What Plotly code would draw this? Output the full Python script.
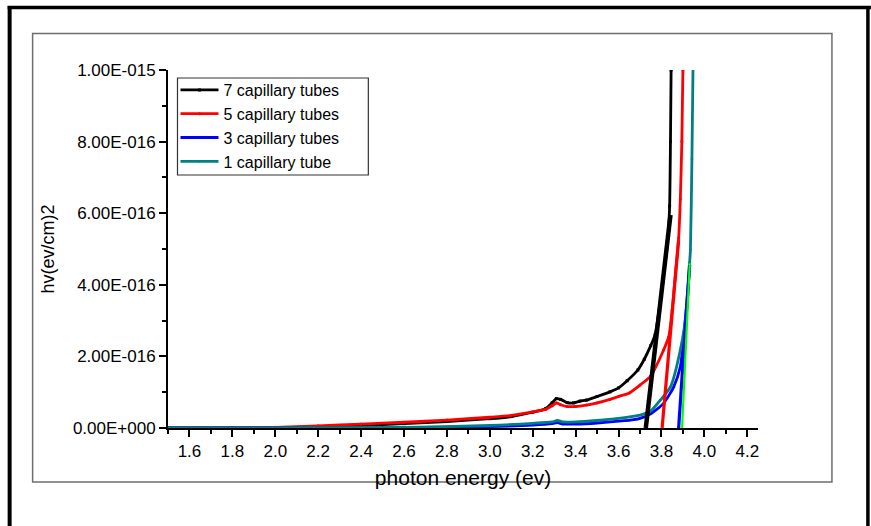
import plotly.graph_objects as go

# ---------------- data ----------------
series_names = ["7 capillary tubes", "5 capillary tubes", "3 capillary tubes", "1 capillary tube"]

x_7 = [1.50, 1.80, 2.00, 2.20, 2.40, 2.60, 2.80, 3.00, 3.10, 3.20, 3.26, 3.29, 3.31, 3.33, 3.36,
       3.39, 3.42, 3.45, 3.50, 3.56, 3.60, 3.64, 3.69, 3.72, 3.75, 3.77, 3.80, 3.83, 3.838, 3.842, 3.845]
y_7 = [0.0, 0.0, 0.01e-16, 0.03e-16, 0.07e-16, 0.12e-16, 0.18e-16, 0.26e-16, 0.32e-16, 0.44e-16,
       0.54e-16, 0.70e-16, 0.82e-16, 0.80e-16, 0.71e-16, 0.70e-16, 0.75e-16, 0.78e-16, 0.88e-16,
       1.01e-16, 1.12e-16, 1.32e-16, 1.62e-16, 1.92e-16, 2.30e-16, 2.60e-16, 3.80e-16, 5.30e-16,
       6.20e-16, 8.00e-16, 10.0e-16]

x_5 = [1.50, 1.80, 2.00, 2.20, 2.40, 2.60, 2.80, 3.00, 3.10, 3.20, 3.26, 3.29, 3.31, 3.33, 3.36,
       3.40, 3.45, 3.50, 3.56, 3.60, 3.65, 3.70, 3.75, 3.81, 3.834, 3.85, 3.865, 3.88, 3.888, 3.895, 3.90]
y_5 = [0.0, 0.0, 0.02e-16, 0.06e-16, 0.11e-16, 0.16e-16, 0.22e-16, 0.30e-16, 0.35e-16, 0.45e-16,
       0.52e-16, 0.62e-16, 0.70e-16, 0.65e-16, 0.60e-16, 0.60e-16, 0.64e-16, 0.70e-16, 0.80e-16,
       0.88e-16, 0.98e-16, 1.20e-16, 1.45e-16, 2.18e-16, 2.55e-16, 3.30e-16, 4.30e-16, 5.30e-16,
       6.40e-16, 8.00e-16, 10.0e-16]

x_3 = [1.50, 2.00, 2.60, 3.00, 3.20, 3.29, 3.315, 3.34, 3.40, 3.50, 3.60, 3.655, 3.70, 3.75,
       3.81, 3.857, 3.888, 3.90, 3.915, 3.932]
y_3 = [0.0, 0.0, 0.01e-16, 0.04e-16, 0.08e-16, 0.12e-16, 0.15e-16, 0.11e-16, 0.11e-16, 0.14e-16,
       0.19e-16, 0.22e-16, 0.27e-16, 0.40e-16, 0.69e-16, 1.15e-16, 1.71e-16, 2.30e-16, 3.30e-16,
       4.55e-16]

x_1 = [1.50, 2.00, 2.60, 3.00, 3.20, 3.29, 3.315, 3.34, 3.40, 3.50, 3.60, 3.70, 3.75, 3.795,
       3.842, 3.888, 3.919, 3.931, 3.935, 3.942, 3.947]
y_1 = [0.0, 0.0, 0.02e-16, 0.07e-16, 0.13e-16, 0.17e-16, 0.21e-16, 0.17e-16, 0.17e-16, 0.21e-16,
       0.27e-16, 0.36e-16, 0.48e-16, 0.78e-16, 1.15e-16, 2.18e-16, 3.39e-16, 4.60e-16, 4.97e-16,
       7.50e-16, 10.0e-16]

# tangent (band-gap extrapolation) lines: [start, end]
tan_7_x = [3.727, 3.842]
tan_7_y = [0.0, 5.95e-16]
tan_5_x = [3.803, 3.880]
tan_5_y = [0.0, 5.25e-16]
tan_3_x = [3.880, 3.931]
tan_3_y = [0.0, 4.55e-16]
tan_g_x = [3.896, 3.932]
tan_g_y = [0.0, 4.60e-16]

x_ticks = [1.6, 1.8, 2.0, 2.2, 2.4, 2.6, 2.8, 3.0, 3.2, 3.4, 3.6, 3.8, 4.0, 4.2]
y_ticks = [0.0, 2e-16, 4e-16, 6e-16, 8e-16, 1e-15]
y_tick_labels = ["0.00E+000", "2.00E-016", "4.00E-016", "6.00E-016", "8.00E-016", "1.00E-015"]
y_minor = [1e-16, 3e-16, 5e-16, 7e-16, 9e-16]

x_title = "photon energy (ev)"
y_title = "hv(ev/cm)2"

# ---------------- figure ----------------
FONT = "Liberation Sans, Arial, sans-serif"
W, H = 871, 526
L, R, T, B = 167.5, 758.0, 70.0, 428.0  # plot-area pixel box


def px_x(p):
    return (p - L) / (R - L)


def px_y(p):
    return (B - p) / (B - T)


colors = ["#000000", "#ff0000", "#0000ff", "#008080"]
symbols = ["square", "circle", "triangle-up", "triangle-down"]
xs = [x_7, x_5, x_3, x_1]
ys = [y_7, y_5, y_3, y_1]

fig = go.Figure()
for name, x, y, c, s in zip(series_names, xs, ys, colors, symbols):
    fig.add_trace(go.Scatter(
        x=x, y=y, name=name, mode="lines+markers",
        line=dict(color=c, width=2.8, shape="spline", smoothing=0.6),
        marker=dict(color=c, size=3, symbol=s),
    ))

for tx, ty, c, w in [(tan_7_x, tan_7_y, "#000000", 4.5), (tan_5_x, tan_5_y, "#ff0000", 3.2),
                     (tan_3_x, tan_3_y, "#0000ff", 3.2), (tan_g_x, tan_g_y, "#00ff00", 2.2)]:
    fig.add_trace(go.Scatter(x=tx, y=ty, mode="lines", showlegend=False,
                             line=dict(color=c, width=w), hoverinfo="skip"))

shapes = [
    # outer black frame (top, left, right)
    dict(type="line", xref="paper", yref="paper", x0=px_x(7), x1=px_x(871), y0=px_y(7.5), y1=px_y(7.5),
         line=dict(color="black", width=3.5)),
    dict(type="line", xref="paper", yref="paper", x0=px_x(9), x1=px_x(9), y0=px_y(6), y1=px_y(526),
         line=dict(color="black", width=4)),
    dict(type="line", xref="paper", yref="paper", x0=px_x(868), x1=px_x(868), y0=px_y(6), y1=px_y(526),
         line=dict(color="black", width=3.5)),
    # grey inner frame
    dict(type="rect", xref="paper", yref="paper", x0=px_x(32), x1=px_x(832), y0=px_y(482), y1=px_y(33.5),
         line=dict(color="#6e6e6e", width=1.5), layer="below"),
    # legend box
    dict(type="rect", xref="paper", yref="paper", x0=px_x(177), x1=px_x(368), y0=px_y(175), y1=px_y(78),
         line=dict(color="#333333", width=1.2), fillcolor="white", layer="below"),
]

fig.update_layout(
    width=W, height=H, autosize=False,
    margin=dict(l=L, r=W - R, t=T, b=H - B, pad=0),
    paper_bgcolor="white", plot_bgcolor="white",
    font=dict(family=FONT, color="black", size=16),
    showlegend=True,
    legend=dict(x=px_x(175), y=px_y(73), xanchor="left", yanchor="top",
                bgcolor="rgba(0,0,0,0)", borderwidth=0,
                font=dict(family=FONT, size=16, color="black"),
                tracegroupgap=0, itemwidth=38),
    shapes=shapes,
    xaxis=dict(
        range=[1.5, 4.25], tickvals=x_ticks, tickformat=".1f",
        showline=True, linecolor="black", linewidth=2, mirror=False,
        ticks="outside", ticklen=7, tickwidth=1.5, tickcolor="black",
        showgrid=False, zeroline=False,
        tickfont=dict(family=FONT, size=17, color="black"),
        minor=dict(dtick=0.1, tick0=1.5, ticks="outside", ticklen=4, tickwidth=1.5, tickcolor="black"),
        title=dict(text=x_title, font=dict(family=FONT, size=21, color="black"), standoff=10),
    ),
    yaxis=dict(
        range=[0, 1e-15], tickvals=y_ticks, ticktext=y_tick_labels,
        showline=True, linecolor="black", linewidth=2, mirror=False,
        ticks="outside", ticklen=7, tickwidth=1.5, tickcolor="black",
        showgrid=False, zeroline=False,
        tickfont=dict(family=FONT, size=17, color="black"),
        minor=dict(tickvals=y_minor, ticks="outside", ticklen=4, tickwidth=1.5, tickcolor="black"),
        title=dict(text=y_title, font=dict(family=FONT, size=18, color="black"), standoff=14),
    ),
)

# remove the browser's default 8px body margin so the figure sits at the page origin
fig.write_html("out.html", config={"displayModeBar": False},
               post_script="document.body.style.margin='0';")
